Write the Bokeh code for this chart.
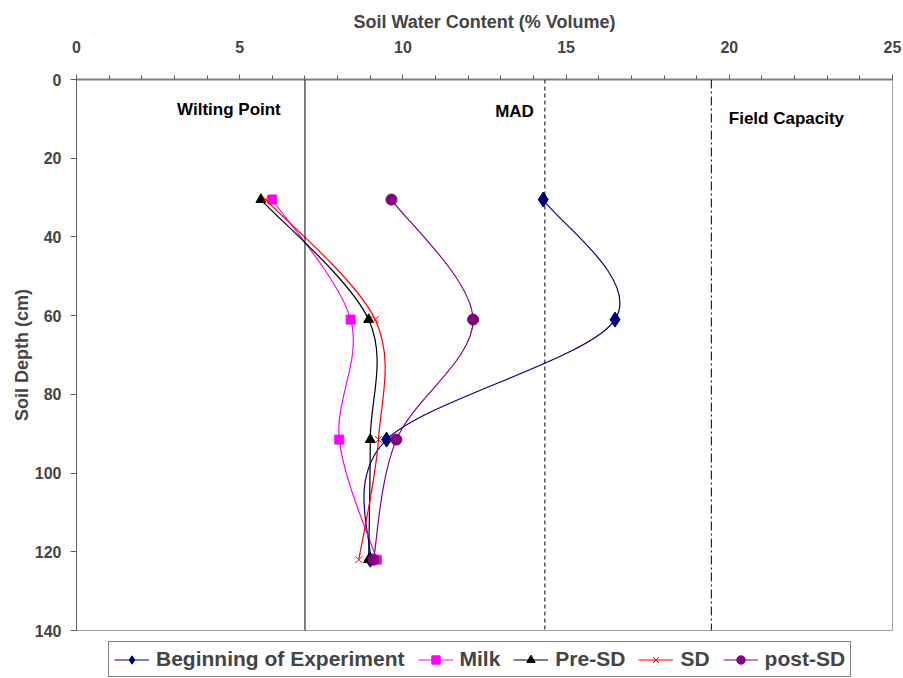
from bokeh.plotting import figure
from bokeh.layouts import column
from bokeh.models import (Range1d, FixedTicker, Span, Legend, LegendItem,
                          ColumnDataSource)
from bokeh.core.properties import value
from bokeh.embed import file_html
from bokeh.resources import INLINE

# ---- data ----
depths = [30.5, 61, 91.5, 122]
beginning = [14.3, 16.5, 9.5, 9.0]
milk = [6.0, 8.4, 8.05, 9.2]
pre_sd = [5.65, 8.95, 9.0, 8.95]
sd = [5.8, 9.15, 9.25, 8.65]
post_sd = [9.65, 12.15, 9.8, 9.1]

series_names = ["Beginning of Experiment", "Milk", "Pre-SD", "SD", "post-SD"]
series_values = [beginning, milk, pre_sd, sd, post_sd]
series_colors = ["#000080", "#FF00FF", "#000000", "#FF0000", "#800080"]
series_markers = ["diamond", "square", "triangle", "x", "circle"]
series_sizes = [15, 9, 10, 10, 11]
legend_sizes = [10, 7, 8, 9, 8]

ref_values = [7.0, 14.35, 19.45]
ref_labels = ["Wilting Point", "MAD", "Field Capacity"]
ref_dashes = ["solid", "4 3", "9 3 2 3"]
label_x = [4.67, 13.42, 21.75]
label_y = [7.7, 8.1, 9.9]

x_ticks = [0, 5, 10, 15, 20, 25]
x_minor = list(range(0, 26))
y_ticks = [0, 20, 40, 60, 80, 100, 120, 140]

FONT = "Liberation Sans"
NAN = float("nan")

p = figure(width=903, height=640, output_backend="svg", toolbar_location=None,
           x_range=Range1d(0, 25), y_range=Range1d(140, 0),
           x_axis_location="above", min_border_left=76, min_border_top=79,
           min_border_right=11, min_border_bottom=10)
p.xgrid.visible = False
p.ygrid.visible = False
p.outline_line_color = "#A0A0A0"
p.outline_line_width = 1
p.background_fill_color = "white"
p.border_fill_color = "white"

# axes
xa = p.xaxis[0]
xa.ticker = FixedTicker(ticks=x_ticks, minor_ticks=x_minor)
xa.axis_label = "Soil Water Content (% Volume)"
xa.axis_label_text_font = FONT
xa.axis_label_text_font_style = "bold"
xa.axis_label_text_font_size = "18px"
xa.axis_label_standoff = 6
xa.major_label_text_font = FONT
xa.major_label_text_font_style = "bold"
xa.major_label_text_font_size = "16px"
xa.major_label_standoff = 22
xa.axis_line_color = "#808080"
xa.axis_line_width = 2
xa.major_tick_line_color = "#606060"
xa.minor_tick_line_color = "#606060"
xa.major_tick_out = 5
xa.major_tick_in = 0
xa.minor_tick_out = 4
xa.minor_tick_in = 0

ya = p.yaxis[0]
ya.ticker = FixedTicker(ticks=y_ticks)
ya.axis_label = "Soil Depth (cm)"
ya.axis_label_text_font = FONT
ya.axis_label_text_font_style = "bold"
ya.axis_label_text_font_size = "18px"
ya.axis_label_standoff = 0
ya.major_label_text_font = FONT
ya.major_label_text_font_style = "bold"
ya.major_label_text_font_size = "16px"
ya.major_label_standoff = 9
ya.axis_line_color = "#606060"
ya.axis_line_width = 1
ya.major_tick_line_color = "#606060"
ya.major_tick_out = 6
ya.major_tick_in = 0
ya.minor_tick_line_color = None

# reference lines
for v, d in zip(ref_values, ref_dashes):
    p.add_layout(Span(location=v, dimension="height", line_color="#000000",
                      line_width=1, line_dash=d))

p.text(x=label_x, y=label_y, text=ref_labels, text_font=value(FONT),
       text_font_style="bold", text_font_size="17px", text_align="center",
       text_baseline="middle", text_color="#000000")


def smooth_segments(xs, ys):
    n = len(xs)
    x0, y0, x1, y1, cx0, cy0, cx1, cy1 = ([] for _ in range(8))
    for i in range(n - 1):
        a = max(i - 1, 0)
        d = min(i + 2, n - 1)
        x0.append(xs[i]); y0.append(ys[i])
        x1.append(xs[i + 1]); y1.append(ys[i + 1])
        cx0.append(xs[i] + (xs[i + 1] - xs[a]) / 6.0)
        cy0.append(ys[i] + (ys[i + 1] - ys[a]) / 6.0)
        cx1.append(xs[i + 1] - (xs[d] - xs[i]) / 6.0)
        cy1.append(ys[i + 1] - (ys[d] - ys[i]) / 6.0)
    return dict(x0=x0, y0=y0, x1=x1, y1=y1, cx0=cx0, cy0=cy0, cx1=cx1, cy1=cy1)


# legend-only strip below the chart (no axes); its frame aligns with the chart frame
lf = figure(width=903, height=38, output_backend="svg", toolbar_location=None,
            x_range=Range1d(0, 1), y_range=Range1d(0, 1),
            x_axis_location=None, y_axis_location=None,
            min_border_left=0, min_border_right=0, min_border_top=0,
            min_border_bottom=0)
lf.grid.visible = False
lf.outline_line_color = None
lf.border_fill_color = "white"
lf.background_fill_color = "white"

items = []
for name, vals, col, mk, sz, lsz in zip(series_names, series_values, series_colors,
                                        series_markers, series_sizes, legend_sizes):
    src = ColumnDataSource(smooth_segments(vals, depths))
    p.bezier(x0="x0", y0="y0", x1="x1", y1="y1", cx0="cx0", cy0="cy0",
             cx1="cx1", cy1="cy1", source=src, line_color=col, line_width=1.2)
    if mk == "x":
        p.scatter(x=vals, y=depths, marker=mk, size=sz, line_color=col,
                  line_width=1)
        lsc = lf.scatter(x=[NAN], y=[NAN], marker=mk, size=lsz,
                         line_color=col, line_width=1)
    else:
        p.scatter(x=vals, y=depths, marker=mk, size=sz, fill_color=col,
                  line_color=col)
        lsc = lf.scatter(x=[NAN], y=[NAN], marker=mk, size=lsz,
                         fill_color=col, line_color=col)
    lln = lf.line(x=[NAN], y=[NAN], line_color=col, line_width=1.2)
    items.append(LegendItem(label=name, renderers=[lln, lsc], index=0))

legend = Legend(items=items, orientation="horizontal", location=(32, 1),
                label_text_font=FONT, label_text_font_style="bold",
                label_text_font_size="21px", border_line_color="#000000",
                border_line_width=1, background_fill_color="white",
                glyph_width=35, glyph_height=21, label_standoff=7,
                spacing=13, padding=5, margin=0, label_height=21)
lf.add_layout(legend, "center")

layout = column(p, lf, spacing=0)
open("out.html", "w").write(file_html(layout, INLINE))
